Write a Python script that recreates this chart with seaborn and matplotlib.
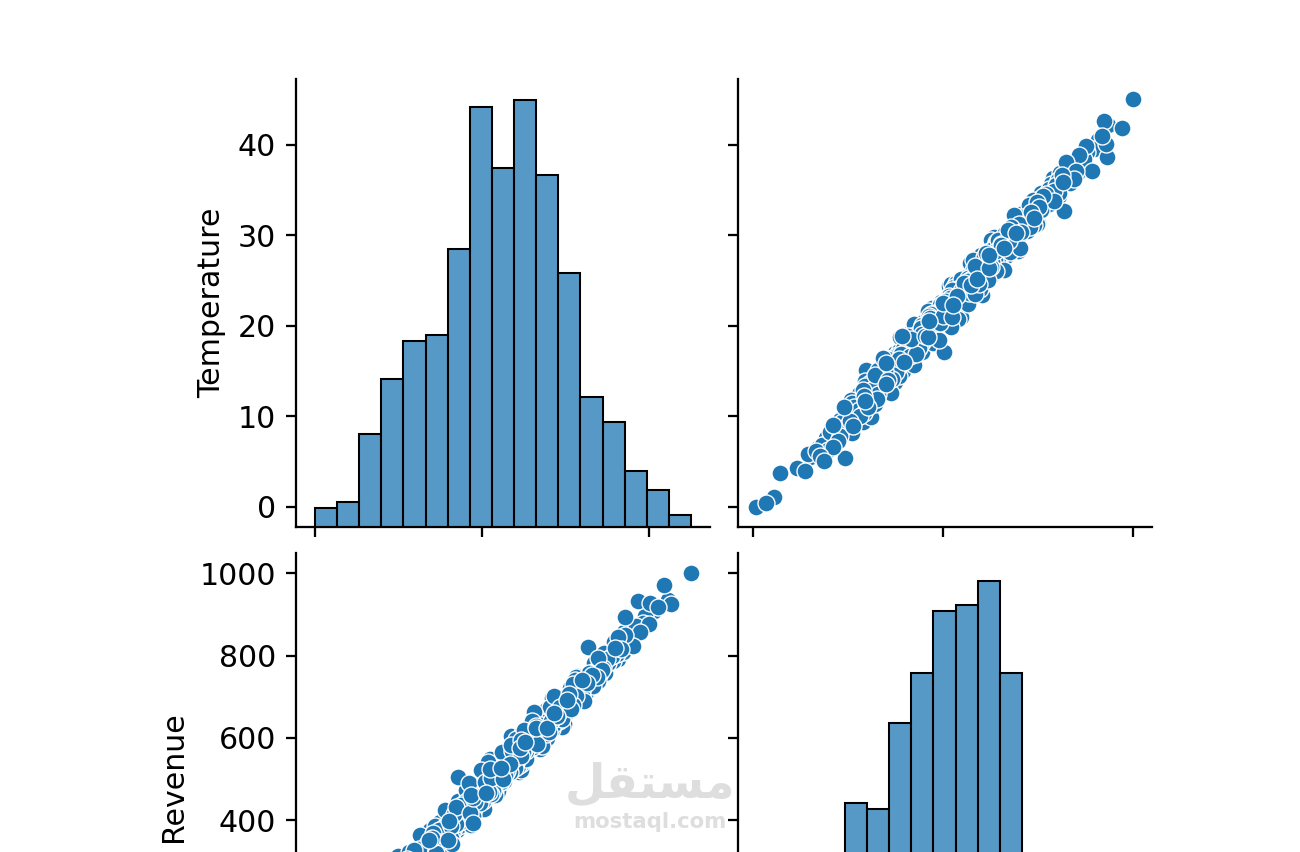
import matplotlib
matplotlib.use("Agg")
import matplotlib.pyplot as plt
import pandas as pd
import seaborn as sns

DPI = 204
W, H = 1300, 852

# values, one line per temperature bin
temperature = [
    0.0, 0.4, 1.1,
    3.7, 3.9, 4.3, 5.0,
    5.4, 5.5, 5.6, 5.8, 6.0, 6.1, 6.3, 6.5, 6.6, 6.8, 7.0, 7.2, 7.4, 7.6, 7.8,
    8.0, 8.1, 8.2, 8.3, 8.5, 8.7, 8.8, 9.0, 9.3, 9.6, 11.0,
    8.1, 8.4, 8.9, 9.1, 9.4, 9.5, 9.8, 9.9, 10.0, 10.1, 10.3, 10.4, 10.5,
    10.6, 10.7, 10.8, 10.9, 11.0, 11.1, 11.2, 11.4, 11.5, 11.7, 11.8, 12.0, 12.2, 12.4, 12.6, 12.9, 13.9,
    9.9, 11.0, 11.3, 11.6, 11.9, 12.1, 12.3, 12.5, 12.7, 12.8, 13.0, 13.1, 13.2,
    13.3, 15.1,
    13.3, 13.4, 13.5, 13.6, 13.7, 13.9, 14.0, 14.2, 14.3, 14.5, 14.6, 14.8, 15.0, 15.1, 15.4, 16.4,
    12.6, 13.8, 14.1, 14.4, 14.7, 14.9, 15.0, 15.2, 15.3, 15.5, 15.6, 15.7, 15.8,
    15.9, 16.3,
    15.9, 16.0, 16.1, 16.2, 16.3, 16.4, 16.5, 16.6, 16.7, 16.8, 16.9, 17.0, 17.0, 17.1,
    17.2, 17.3, 17.4, 17.5, 17.6, 18.7, 17.8, 17.9, 18.0, 18.1, 18.9, 18.3, 18.4, 18.5,
    15.6, 16.7, 16.9, 17.1, 17.3, 17.5, 17.7, 17.8, 18.0, 18.1, 18.2, 18.3, 18.4, 18.5, 17.1,
    18.6, 18.7, 18.9, 19.2,
    18.6, 18.6, 18.7, 18.7, 18.8, 18.8, 18.9, 19.0, 19.0, 19.1, 18.1, 19.2, 19.3, 19.3, 19.4, 19.5, 19.5, 19.6, 19.7,
    19.7, 19.8, 19.9, 19.9, 20.0, 20.1, 20.1, 20.2, 20.3, 20.4, 20.5, 20.6, 20.7, 20.8, 21.6, 21.9, 21.1, 20.2,
    19.1, 18.4, 19.6, 19.8, 19.9, 20.0, 20.1, 20.2, 20.3, 20.4, 20.5, 20.5, 20.6, 20.7,
    20.7, 20.8, 20.8, 20.9, 20.9, 21.0, 21.0, 21.1, 21.1, 21.1, 20.3, 20.6, 19.7,
    21.3, 21.6,
    21.2, 21.2, 21.3, 21.4, 21.4, 21.5, 21.6, 21.7, 21.7, 21.8, 21.9, 22.0, 22.0, 22.1, 22.2, 22.3, 22.3,
    22.4, 22.5, 22.6, 22.6, 22.7, 22.8, 22.9, 23.0, 23.1, 23.2, 23.3, 23.4, 24.6, 23.6, 23.7, 24.4,
    20.7, 20.9, 22.1, 22.4, 22.5, 22.7, 22.8, 22.9, 23.0, 23.1, 23.2, 23.3,
    23.3, 23.4, 23.5, 23.5, 23.6, 23.6, 23.7, 23.7, 23.8, 23.8, 22.6,
    23.9, 24.3,
    23.9, 23.9, 24.0, 23.3, 24.1, 24.1, 24.2, 24.2, 24.3, 24.4, 24.4, 24.5, 24.5, 24.6, 24.6, 24.7, 24.8, 24.8, 24.9, 25.0,
    25.0, 25.1, 25.2, 25.2, 25.3, 25.4, 25.4, 25.5, 25.6, 25.7, 25.8, 26.9, 26.0, 26.1, 26.2, 26.3, 27.2, 24.7, 25.1,
    24.0, 23.4, 24.6, 24.8, 24.9, 25.0, 25.1, 25.3, 25.4, 25.5, 25.6, 25.6, 25.7, 25.8,
    25.9, 25.9, 26.0, 26.0, 26.1, 26.1, 26.2, 26.2, 26.3, 26.3, 26.4, 26.4, 25.2, 26.4,
    26.6, 27.0,
    26.5, 26.5, 26.6, 26.7, 26.7, 26.8, 26.8, 26.0, 26.9, 27.0, 27.0, 27.1, 27.2, 27.2, 27.3, 27.4, 27.4, 27.5, 27.6,
    27.6, 27.7, 27.8, 27.8, 27.9, 28.0, 28.0, 28.1, 28.2, 28.3, 28.4, 28.5, 28.6, 29.5, 28.8, 28.9, 29.8, 29.1, 27.1,
    26.9, 26.2, 27.7, 27.9, 28.1, 28.2, 28.3, 28.4, 28.5, 28.6, 28.7, 28.8, 28.9, 28.9, 29.0, 29.0, 29.1,
    29.2, 29.5,
    29.2, 29.2, 29.3, 29.3, 28.3, 29.4, 29.5, 29.6, 28.6, 29.7, 29.8, 29.8, 29.9, 30.0, 30.0, 30.1, 30.2,
    30.2, 30.3, 30.4, 30.5, 30.6, 30.6, 30.7, 30.8, 30.9, 31.0, 31.1, 31.2, 31.3, 31.4, 32.2, 31.7,
    30.5, 30.9, 31.1, 31.3, 31.5, 31.7,
    31.8, 32.0, 32.3,
    31.9, 32.1, 31.2, 32.6, 32.8, 33.0, 33.1, 33.3, 33.5, 33.7, 33.9, 34.1, 34.3,
    32.7, 33.4, 33.8, 34.0, 34.3,
    34.5, 34.6, 34.7, 34.9, 35.1, 35.3, 35.5, 35.7, 35.9, 36.1, 36.3, 36.6, 36.9, 35.8, 36.2, 36.5, 37.0,
    37.1, 37.1, 37.6, 38.1, 38.4, 38.6, 38.9, 39.2, 39.5,
    39.9, 40.1, 40.5, 41.0, 41.8, 42.2,
    42.6, 45.0,
]

revenue = [
    10, 36, 56,
    71, 137, 117, 189,
    242, 150, 178, 145, 192, 166, 199, 172, 211, 183, 196, 224, 206, 193, 229,
    219, 240, 205, 232, 214, 238, 226, 211, 236, 229, 240,
    262, 251, 263, 248, 290, 257, 271, 247, 282, 262, 255, 294, 276,
    258, 281, 249, 292, 268, 299, 276, 262, 287, 296, 259, 283, 294, 279, 300, 290, 297,
    312, 305, 323, 310, 327, 318, 306, 331, 322, 345, 316, 338, 329,
    296, 299,
    318, 341, 326, 352, 310, 337, 357, 329, 346, 321, 355, 340, 348, 329, 352, 343,
    364, 376, 368, 386, 371, 377, 395, 363, 381, 401, 369, 389, 410,
    352, 356,
    372, 398, 379, 407, 385, 368, 396, 414, 381, 403, 390, 412, 375, 400,
    386, 409, 395, 416, 402, 388, 411, 399, 415, 406, 393, 413, 404, 417,
    425, 433, 431, 446, 422, 438, 452, 429, 444, 461, 426, 449, 436, 468, 504,
    410, 414, 409, 415,
    431, 452, 424, 462, 441, 434, 455, 428, 467, 445, 474, 437, 459, 421, 448, 470, 433, 455, 442,
    466, 451, 473, 438, 460, 447, 469, 457, 471, 449, 465, 474, 458, 468, 461, 472, 463, 426,
    483, 491, 479, 497, 522, 486, 503, 488, 512, 494, 478, 506, 489, 517,
    496, 484, 509, 499, 525, 487, 513, 502, 480, 528, 493, 532, 486,
    470, 474,
    488, 515, 497, 522, 481, 508, 493, 526, 487, 512, 499, 531, 484, 518, 505, 527, 492,
    514, 501, 523, 496, 510, 529, 507, 519, 512, 525, 516, 532, 521, 527, 530, 517,
    541, 548, 556, 566, 543, 558, 539, 571, 551, 545, 563, 537,
    574, 553, 584, 560, 544, 569, 556, 579, 548, 565, 552,
    526, 531,
    545, 571, 552, 583, 539, 566, 574, 548, 558, 587, 562, 544, 576, 569, 590, 555, 581, 541, 566, 586,
    559, 575, 549, 582, 568, 589, 561, 577, 584, 570, 591, 572, 583, 579, 588, 585, 580, 536, 591,
    598, 604, 596, 611, 599, 620, 604, 613, 597, 626, 602, 617, 609, 631,
    596, 614, 622, 605, 611, 636, 600, 627, 615, 641, 608, 623, 610, 594,
    586, 589,
    599, 628, 607, 635, 612, 597, 624, 641, 616, 604, 631, 620, 609, 638, 626, 601, 645, 618, 633,
    610, 642, 623, 600, 637, 615, 646, 629, 640, 621, 644, 632, 649, 627, 639, 647, 634, 643, 648,
    655, 662, 668, 659, 676, 657, 686, 666, 680, 661, 692, 672, 654, 684, 677, 653, 698,
    641, 646,
    662, 689, 675, 656, 698, 669, 684, 661, 703, 678, 692, 667, 686, 672, 701, 689, 692,
    664, 680, 706, 685, 696, 671, 690, 704, 681, 697, 686, 702, 693, 707, 689, 699,
    722, 731, 740, 750, 728, 737,
    701, 705, 704,
    741, 722, 748, 733, 759, 742, 754, 727, 763, 749, 738, 758, 765,
    820, 781, 794, 776, 805,
    771, 806, 758, 792, 781, 812, 799, 786, 818, 803, 791, 815, 808, 834, 846, 829, 857,
    850, 894, 862, 824, 871, 933, 858, 880, 897,
    877, 929, 908, 919, 971, 936,
    925, 1000,
]

df = pd.DataFrame({"Temperature": temperature, "Revenue": revenue})
# draw the points in a mixed order, not sorted by temperature
n = len(df)
df = df.iloc[[(k * 263) % n for k in range(n)]].reset_index(drop=True)

plt.rcParams["font.size"] = 10.6

g = sns.pairplot(df, diag_kws=dict(bins=17))
fig = g.figure
fig.set_size_inches(W / DPI, H / DPI)

# grid placed like in the screenshot, bottom row runs off the image
col_left = [296, 737.5]
row_top = [79, 553]
ax_w, ax_h = 414, 448
for i in range(2):
    for j in range(2):
        g.axes[i, j].set_position([
            col_left[j] / W,
            (H - row_top[i] - ax_h) / H,
            ax_w / W,
            ax_h / H,
        ])

# the bottom row's x labels fall below the cropped image anyway
for ax in g.axes[1]:
    ax.tick_params(labelbottom=False)
    ax.set_xlabel("")

# faint watermark
fig.text(650 / W, 1 - 785 / H, "\ufede\ufed8\ufe98\ufeb4\ufee3", ha="center", va="center",
         fontsize=16.5, color="#dedede", fontweight="bold", family=["DejaVu Sans"])
fig.text(650 / W, 1 - 822 / H, "mostaql.com", ha="center", va="center",
         fontsize=7.5, color="#dedede", fontweight="bold")

fig.savefig("out.png", dpi=DPI)
